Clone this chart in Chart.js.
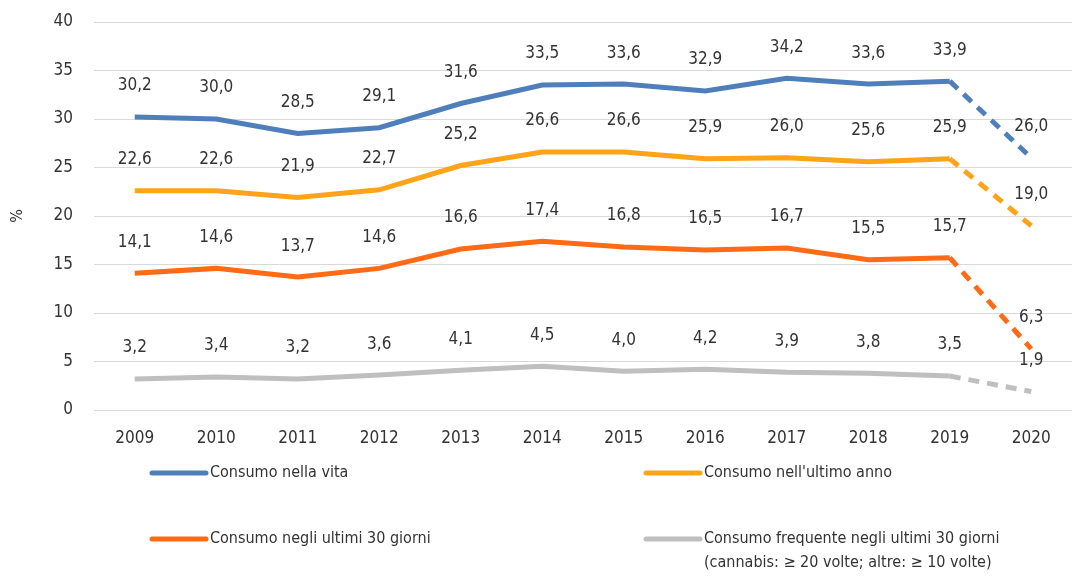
<!DOCTYPE html>
<html lang="it">
<head>
  <meta charset="UTF-8">
  <title>Consumo - andamento 2009-2020</title>
  <script src="https://cdn.jsdelivr.net/npm/chart.js"></script>
  <style>
    body {
      margin: 0;
      background: #fff;
    }
    .wrap {
      width: 1072px;
      height: 576px;
      position: relative;
    }
  </style>
</head>
<body>
  <div class="wrap">
    <canvas id="trend"></canvas>
  </div>

  <script>
    // Years and series (%)
    const years = ['2009', '2010', '2011', '2012', '2013', '2014', '2015', '2016', '2017', '2018', '2019', '2020'];
    const consumoVita = [30.2, 30.0, 28.5, 29.1, 31.6, 33.5, 33.6, 32.9, 34.2, 33.6, 33.9, 26.0];
    const consumoAnno = [22.6, 22.6, 21.9, 22.7, 25.2, 26.6, 26.6, 25.9, 26.0, 25.6, 25.9, 19.0];
    const consumo30 = [14.1, 14.6, 13.7, 14.6, 16.6, 17.4, 16.8, 16.5, 16.7, 15.5, 15.7, 6.3];
    const consumoFreq = [3.2, 3.4, 3.2, 3.6, 4.1, 4.5, 4.0, 4.2, 3.9, 3.8, 3.5, 1.9];
    const yTicks = [0, 5, 10, 15, 20, 25, 30, 35, 40];

    const FONT = "'DejaVu Sans Condensed', 'Open Sans', sans-serif";
    const TEXT = '#333333';

    // last segment (2019 -> 2020) is dashed
    function makeSeries(label, data, color) {
      return {
        label: label,
        data: data,
        borderColor: color,
        backgroundColor: color,
        borderWidth: 5,
        pointRadius: 0,
        tension: 0,
        segment: {
          borderDash: ctx => ctx.p1DataIndex === data.length - 1 ? [11, 8] : undefined
        }
      };
    }

    // value labels above every point, decimal comma
    const valueLabels = {
      id: 'valueLabels',
      afterDatasetsDraw(chart) {
        const c = chart.ctx;
        c.save();
        c.font = '17px ' + FONT;
        c.fillStyle = TEXT;
        c.textAlign = 'center';
        c.textBaseline = 'middle';
        chart.data.datasets.forEach((ds, i) => {
          chart.getDatasetMeta(i).data.forEach((pt, j) => {
            c.fillText(ds.data[j].toFixed(1).replace('.', ','), pt.x, pt.y - 31);
          });
        });
        c.restore();
      }
    };

    // two-column legend under the axis
    const legendBlock = {
      id: 'legendBlock',
      afterDraw(chart) {
        const c = chart.ctx;
        const cols = [152, 646];
        const rows = [473, 539];
        c.save();
        c.font = '16px ' + FONT;
        c.fillStyle = TEXT;
        c.textBaseline = 'middle';
        c.lineWidth = 5;
        c.lineCap = 'round';
        chart.data.datasets.forEach((ds, i) => {
          const x = cols[i % 2];
          const y = rows[Math.floor(i / 2)];
          c.strokeStyle = ds.borderColor;
          c.beginPath();
          c.moveTo(x, y);
          c.lineTo(x + 54, y);
          c.stroke();
          const lines = ds.label.split('\n');
          lines.forEach((t, k) => c.fillText(t, x + 58, y + k * 24));
        });
        c.restore();
      }
    };

    new Chart(document.getElementById('trend'), {
      type: 'line',
      data: {
        labels: years,
        datasets: [
          makeSeries('Consumo nella vita', consumoVita, '#4f7fbb'),
          makeSeries("Consumo nell'ultimo anno", consumoAnno, '#ffa319'),
          makeSeries('Consumo negli ultimi 30 giorni', consumo30, '#ff6a17'),
          makeSeries('Consumo frequente negli ultimi 30 giorni\n(cannabis: \u2265 20 volte; altre: \u2265 10 volte)', consumoFreq, '#bfbfbf')
        ]
      },
      options: {
        responsive: true,
        maintainAspectRatio: false,
        animation: false,
        layout: { padding: { top: 22, right: 0, bottom: 120, left: 0 } },
        plugins: {
          legend: { display: false },
          tooltip: { enabled: false }
        },
        scales: {
          x: {
            offset: true,
            grid: { display: false },
            border: { display: false },
            ticks: { color: TEXT, padding: 10, font: { family: FONT, size: 17 } },
            afterFit(scale) { scale.height = 46; }
          },
          y: {
            min: 0,
            max: 40,
            afterBuildTicks(scale) { scale.ticks = yTicks.map(v => ({ value: v })); },
            grid: { color: '#d9d9d9', lineWidth: 1, drawTicks: false },
            border: { display: false },
            ticks: { color: TEXT, padding: 21, font: { family: FONT, size: 17 } },
            title: { display: true, text: '%', color: TEXT, padding: { top: 8, bottom: 0 }, font: { family: FONT, size: 16 } },
            afterFit(scale) {
              scale.width = 94;
              scale.paddingTop = 10;
              scale.paddingBottom = 10;
            }
          }
        }
      },
      plugins: [valueLabels, legendBlock]
    });
  </script>
</body>
</html>
